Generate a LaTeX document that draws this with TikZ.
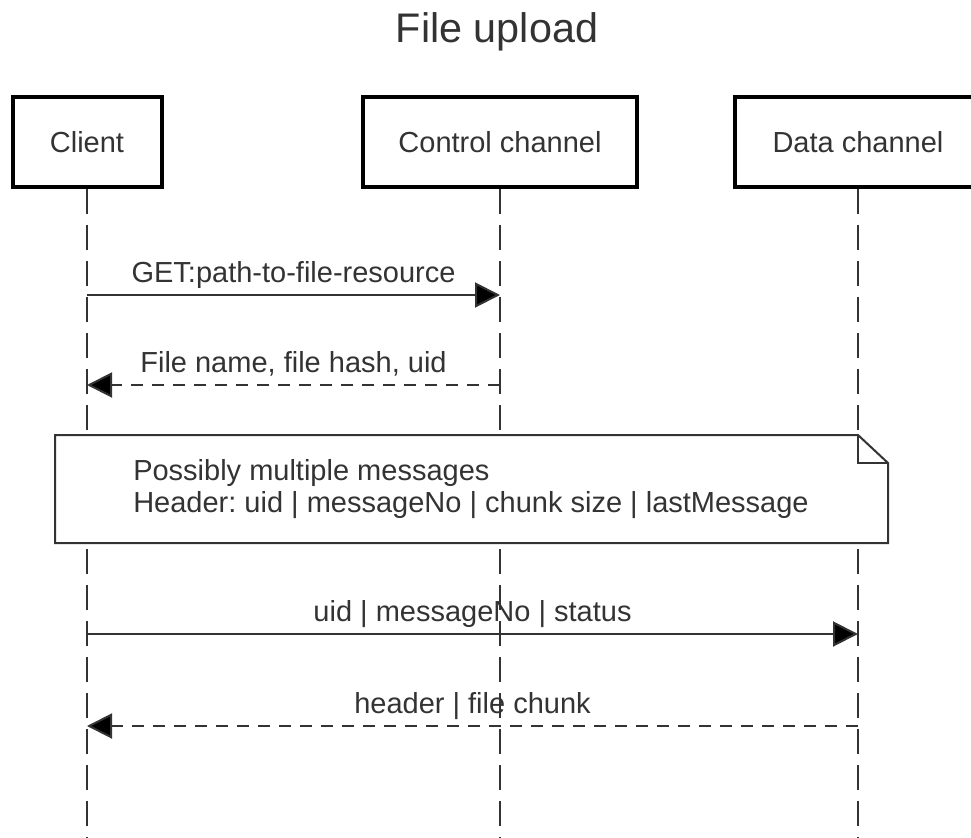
\documentclass[tikz,border=0pt]{standalone}
\usepackage{fontspec}
\setmainfont{Liberation Sans}
\usetikzlibrary{arrows.meta}
\definecolor{ink}{HTML}{333333}
\frenchspacing
\begin{document}
\begin{tikzpicture}[x=0.75pt,y=-0.75pt,
  lbl/.style={font=\fontsize{21.75pt}{24pt}\selectfont, text=ink, inner sep=0pt},
  actor/.style={draw=black, line width=3pt, fill=white, minimum height=67.5pt, inner sep=0pt,
    font=\fontsize{21.75pt}{24pt}\selectfont, text=ink},
  life/.style={draw=ink, line width=1.5pt, dash pattern=on 18.75pt off 8.25pt},
  msg/.style={draw=ink, line width=1.5pt, -{Triangle[length=18.75pt,width=18.75pt,fill=black]}},
  reply/.style={msg, dash pattern=on 9pt off 6.75pt},
  notebox/.style={draw=ink, line width=1.5pt, fill=white, line join=miter},
]
\useasboundingbox (0,0) rectangle (971,838);
\clip (0,0) rectangle (971,838);

% title
\node[lbl, font=\fontsize{31pt}{36pt}\selectfont, anchor=base] (title) at (497,43) {File upload};

% actors
\node[actor, minimum width=111.75pt] (client) at (87,142) {Client};
\node[actor, minimum width=205.5pt] (control) at (500,142) {Control channel};
\node[actor, minimum width=184.5pt] (data) at (858,142) {Data channel};

% lifeline ends
\coordinate (clientEnd) at (87,842);
\coordinate (controlEnd) at (500,842);
\coordinate (dataEnd) at (858,842);

\draw[life] (client.south) -- (clientEnd);
\draw[life] (control.south) -- (controlEnd);
\draw[life] (data.south) -- (dataEnd);

% note
\draw[notebox] (55,435) -- (858,435) -- (888,463) -- (888,543) -- (55,543) -- cycle;
\draw[notebox, fill=none] (858,435) -- (858,463) -- (888,463);
\node[lbl, anchor=base west] (note1) at (133,480) {Possibly multiple messages};
\node[lbl, anchor=base west] (note2) at (133,512) {Header: uid | messageNo | chunk size | lastMessage};

% message points
\coordinate (c1) at (87,295);  \coordinate (k1) at (500,295);
\coordinate (c2) at (87,385);  \coordinate (k2) at (500,385);
\coordinate (c3) at (87,634);  \coordinate (d3) at (858,634);
\coordinate (c4) at (87,726);  \coordinate (d4) at (858,726);

\draw[msg] (c1) -- node[lbl, midway, anchor=base, yshift=9.75pt] (m1) {GET:path-to-file-resource} (k1);
\draw[reply] (k2) -- node[lbl, midway, anchor=base, yshift=9.75pt] (m2) {File name, file hash, uid} (c2);
\draw[msg] (c3) -- node[lbl, midway, anchor=base, yshift=9.75pt] (m3) {uid | messageNo | status} (d3);
\draw[reply] (d4) -- node[lbl, midway, anchor=base, yshift=9.75pt] (m4) {header | file chunk} (c4);
\end{tikzpicture}
\end{document}
